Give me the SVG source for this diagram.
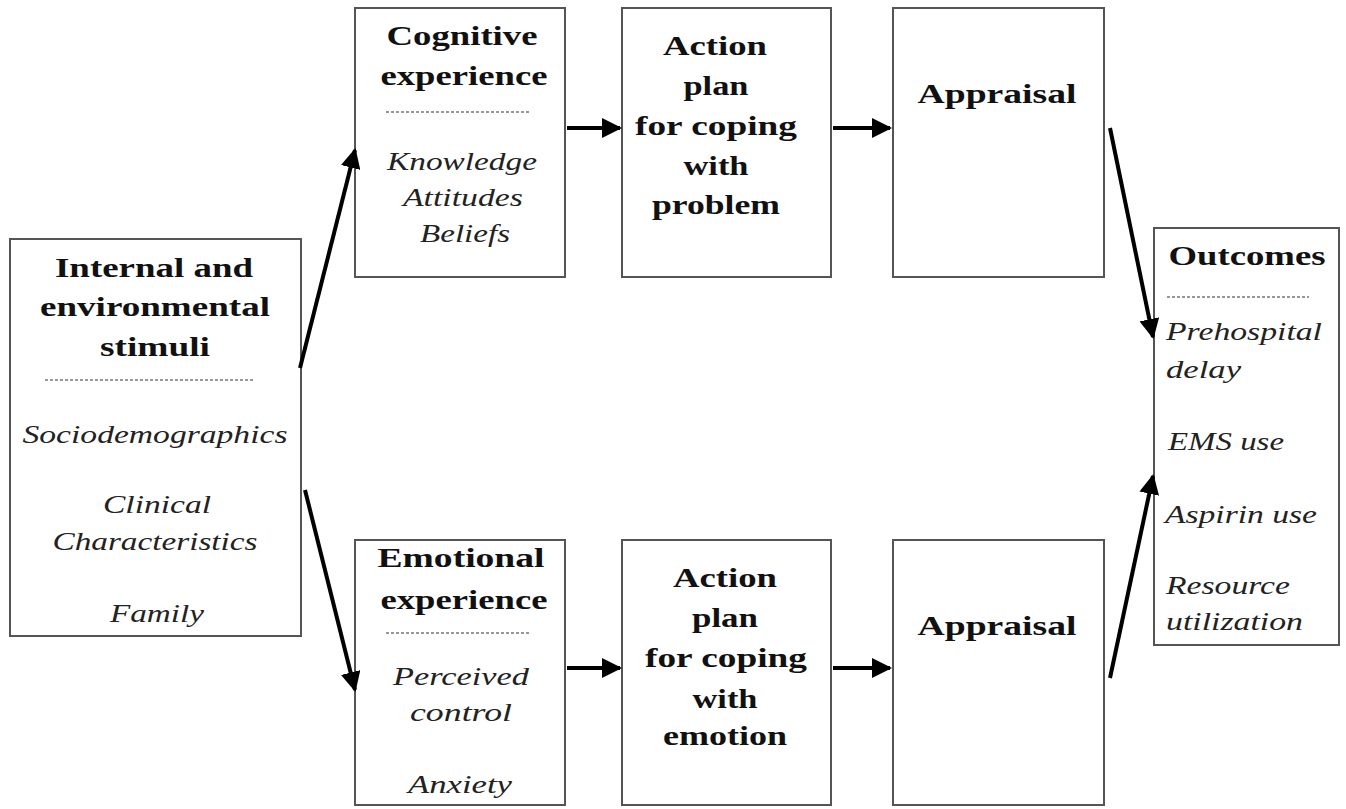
<svg xmlns="http://www.w3.org/2000/svg" width="1346" height="809" viewBox="0 0 1346 809">
<style>
.box{fill:#fff;stroke:#555;stroke-width:2}
.t{font-family:"Liberation Serif","Times New Roman",serif;font-weight:bold;font-size:28px;fill:#111;text-anchor:middle}
.i{font-family:"Liberation Serif","Times New Roman",serif;font-style:italic;font-size:25px;fill:#222;text-anchor:middle}
.l{text-anchor:start}
.sep{stroke:#777;stroke-width:1.5;stroke-dasharray:3 2}
.c{stroke:#000;stroke-width:4;fill:none;marker-end:url(#ah)}
</style>
<defs>
<marker id="ah" viewBox="0 0 10 10" refX="9" refY="5" markerWidth="5" markerHeight="5" orient="auto" markerUnits="strokeWidth">
<path d="M0,0 L10,5 L0,10 z" fill="#000"/>
</marker>
</defs>
<rect width="1346" height="809" fill="#fff"/>
<g id="stimuli">
<rect class="box" x="10" y="239" width="291" height="397"/>
<text class="t" x="154" y="277" textLength="198" lengthAdjust="spacingAndGlyphs">Internal and</text>
<text class="t" x="155" y="316" textLength="230" lengthAdjust="spacingAndGlyphs">environmental</text>
<text class="t" x="155" y="356" textLength="110" lengthAdjust="spacingAndGlyphs">stimuli</text>
<line class="sep" x1="45" y1="380" x2="255" y2="380" stroke="#bbb"/>
<text class="i" x="155" y="443" textLength="265" lengthAdjust="spacingAndGlyphs">Sociodemographics</text>
<text class="i" x="157" y="513" textLength="108" lengthAdjust="spacingAndGlyphs">Clinical</text>
<text class="i" x="155" y="550" textLength="205" lengthAdjust="spacingAndGlyphs">Characteristics</text>
<text class="i" x="157" y="622" textLength="94" lengthAdjust="spacingAndGlyphs">Family</text>
</g>
<g id="cognitive">
<rect class="box" x="355" y="8" width="210" height="269"/>
<text class="t" x="462" y="45" textLength="151" lengthAdjust="spacingAndGlyphs">Cognitive</text>
<text class="t" x="464" y="85" textLength="167" lengthAdjust="spacingAndGlyphs">experience</text>
<line class="sep" x1="386" y1="112" x2="531" y2="112"/>
<text class="i" x="462" y="170" textLength="150" lengthAdjust="spacingAndGlyphs">Knowledge</text>
<text class="i" x="463" y="206" textLength="120" lengthAdjust="spacingAndGlyphs">Attitudes</text>
<text class="i" x="465" y="242" textLength="90" lengthAdjust="spacingAndGlyphs">Beliefs</text>
</g>
<g id="action-problem">
<rect class="box" x="622" y="8" width="209" height="269"/>
<text class="t" x="715" y="55" textLength="104" lengthAdjust="spacingAndGlyphs">Action</text>
<text class="t" x="716" y="95" textLength="65" lengthAdjust="spacingAndGlyphs">plan</text>
<text class="t" x="716" y="135" textLength="162" lengthAdjust="spacingAndGlyphs">for coping</text>
<text class="t" x="716" y="175" textLength="65" lengthAdjust="spacingAndGlyphs">with</text>
<text class="t" x="716" y="214" textLength="128" lengthAdjust="spacingAndGlyphs">problem</text>
</g>
<g id="appraisal-top">
<rect class="box" x="893" y="8" width="211" height="269"/>
<text class="t" x="997" y="103" textLength="159" lengthAdjust="spacingAndGlyphs">Appraisal</text>
</g>
<g id="emotional">
<rect class="box" x="355" y="540" width="210" height="265"/>
<text class="t" x="461" y="567" textLength="167" lengthAdjust="spacingAndGlyphs">Emotional</text>
<text class="t" x="464" y="609" textLength="167" lengthAdjust="spacingAndGlyphs">experience</text>
<line class="sep" x1="386" y1="633" x2="531" y2="633"/>
<text class="i" x="461" y="685" textLength="136" lengthAdjust="spacingAndGlyphs">Perceived</text>
<text class="i" x="461" y="721" textLength="102" lengthAdjust="spacingAndGlyphs">control</text>
<text class="i" x="460" y="793" textLength="104" lengthAdjust="spacingAndGlyphs">Anxiety</text>
</g>
<g id="action-emotion">
<rect class="box" x="622" y="540" width="209" height="265"/>
<text class="t" x="725" y="587" textLength="104" lengthAdjust="spacingAndGlyphs">Action</text>
<text class="t" x="725" y="627" textLength="66" lengthAdjust="spacingAndGlyphs">plan</text>
<text class="t" x="726" y="667" textLength="162" lengthAdjust="spacingAndGlyphs">for coping</text>
<text class="t" x="725" y="708" textLength="65" lengthAdjust="spacingAndGlyphs">with</text>
<text class="t" x="725" y="745" textLength="124" lengthAdjust="spacingAndGlyphs">emotion</text>
</g>
<g id="appraisal-bottom">
<rect class="box" x="893" y="540" width="211" height="265"/>
<text class="t" x="997" y="635" textLength="159" lengthAdjust="spacingAndGlyphs">Appraisal</text>
</g>
<g id="outcomes">
<rect class="box" x="1154" y="228" width="185" height="417"/>
<text class="t" x="1247" y="265" textLength="157" lengthAdjust="spacingAndGlyphs">Outcomes</text>
<line class="sep" x1="1167" y1="297" x2="1309" y2="297"/>
<text class="i l" x="1166" y="340" textLength="156" lengthAdjust="spacingAndGlyphs">Prehospital</text>
<text class="i l" x="1166" y="378" textLength="75" lengthAdjust="spacingAndGlyphs">delay</text>
<text class="i l" x="1168" y="450" textLength="116" lengthAdjust="spacingAndGlyphs">EMS use</text>
<text class="i l" x="1165" y="523" textLength="152" lengthAdjust="spacingAndGlyphs">Aspirin use</text>
<text class="i l" x="1166" y="594" textLength="124" lengthAdjust="spacingAndGlyphs">Resource</text>
<text class="i l" x="1166" y="630" textLength="137" lengthAdjust="spacingAndGlyphs">utilization</text>
</g>
<g id="connectors">
<line class="c" x1="300" y1="368" x2="355" y2="150"/>
<line class="c" x1="305" y1="490" x2="355" y2="690"/>
<line class="c" x1="567" y1="128" x2="620" y2="128"/>
<line class="c" x1="833" y1="128" x2="890" y2="128"/>
<line class="c" x1="567" y1="668" x2="620" y2="668"/>
<line class="c" x1="833" y1="668" x2="890" y2="668"/>
<line class="c" x1="1110" y1="128" x2="1153" y2="337"/>
<line class="c" x1="1110" y1="678" x2="1153" y2="476"/>
</g>
</svg>
